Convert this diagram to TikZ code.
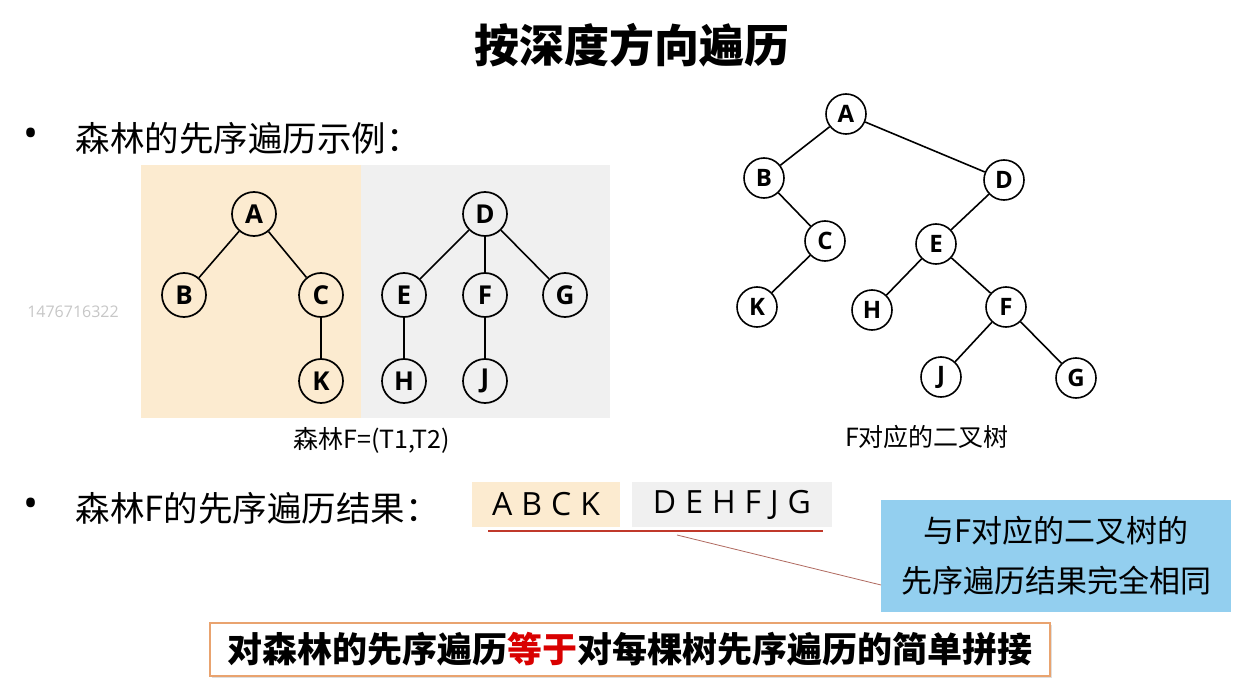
\documentclass[tikz,border=0pt]{standalone}
\usepackage{fontspec}
\setmainfont{Open Sans}
\newfontfamily\cjk{Noto Sans CJK SC}
\usetikzlibrary{shadows}
\definecolor{beige}{HTML}{FCEBD0}
\definecolor{lgray}{HTML}{F0F0F0}
\definecolor{notecol}{HTML}{93CFEF}
\definecolor{ured}{HTML}{C0392B}
\definecolor{obord}{HTML}{E9A36F}
\definecolor{callcol}{HTML}{B06A60}
\begin{document}
\begin{tikzpicture}[x=1pt,y=-1pt,
 fnode/.style={circle,draw,line width=1.7pt,minimum size=44pt,inner sep=0pt,font=\fontsize{26}{26}\selectfont\bfseries},
 bnode/.style={circle,draw,line width=1.6pt,minimum size=40pt,inner sep=0pt,fill=white,font=\fontsize{24}{24}\selectfont\bfseries},
 edge/.style={line width=1.6pt},
 bullet/.style={font=\fontsize{40}{40}\selectfont},
 btext/.style={anchor=west,font=\cjk\fontsize{34.5}{34.5}\selectfont},
 captext/.style={font=\cjk\fontsize{25}{25}\selectfont},
 seq/.style={inner sep=0pt,minimum height=45pt,font=\fontsize{32}{32}\selectfont},
]
\useasboundingbox (0,0) rectangle (1255,687);
\fill[white] (0,0) rectangle (1255,687);

% title
\node (title) at (632,45) {\cjk\bfseries\fontsize{45}{45}\selectfont 按深度方向遍历};

% watermark
\node[text=black!22,font=\fontsize{16}{16}\selectfont] (wm) at (73,312) {1476716322};

% bullet 1
\node[bullet] (b1) at (31,138) {•};
\node[btext] (t1) at (72,138) {森林的先序遍历示例：};

% panels
\fill[beige] (141,165) rectangle (361,418);
\fill[lgray] (361,165) rectangle (610,418);

% forest T1
\node[fnode,fill=beige] (fA) at (254,214) {A};
\node[fnode,fill=beige] (fB) at (184,295) {B};
\node[fnode,fill=beige] (fC) at (321,295) {C};
\node[fnode,fill=beige] (fK) at (321,381) {K};
% forest T2
\node[fnode,fill=lgray] (fD) at (485,214) {D};
\node[fnode,fill=lgray] (fE) at (404,295) {E};
\node[fnode,fill=lgray] (fF) at (485,295) {F};
\node[fnode,fill=lgray] (fG) at (565,295) {G};
\node[fnode,fill=lgray] (fH) at (404,381) {H};
\node[fnode,fill=lgray] (fJ) at (485,381) {J};
\draw[edge] (fA)--(fB) (fA)--(fC) (fC)--(fK)
 (fD)--(fE) (fD)--(fF) (fD)--(fG) (fE)--(fH) (fF)--(fJ);
\node[captext] (cap1) at (372,440) {森林F=(T1,T2)};

% binary tree
\node[bnode] (bA) at (846,114) {A};
\node[bnode] (bB) at (764,178) {B};
\node[bnode] (bD) at (1004,180) {D};
\node[bnode] (bC) at (825,241) {C};
\node[bnode] (bE) at (936,244) {E};
\node[bnode] (bK) at (757,307) {K};
\node[bnode] (bH) at (872,310) {H};
\node[bnode] (bF) at (1006,307) {F};
\node[bnode] (bJ) at (941,377) {J};
\node[bnode] (bG) at (1076,378) {G};
\draw[edge] (bA)--(bB) (bA)--(bD) (bB)--(bC) (bC)--(bK)
 (bD)--(bE) (bE)--(bH) (bE)--(bF) (bF)--(bJ) (bF)--(bG);
\node[captext] (cap2) at (927,437) {F对应的二叉树};

% bullet 2
\node[bullet] (b2) at (31,508) {•};
\node[btext] (t2) at (72,508) {森林F的先序遍历结果：};

% result sequence
\node[seq,fill=beige,minimum width=148pt] (r1) at (546,504.5) {\spaceskip=9pt A B C K};
\node[seq,fill=lgray,minimum width=200pt] (r2) at (732,504.5) {\spaceskip=9pt D E H F J G};
\coordinate (u1) at (488,531);
\coordinate (u2) at (823,531);
\draw[ured,line width=2.5pt] (u1)--(u2);

% note
\node[fill=notecol,minimum width=350pt,minimum height=112pt,align=center,
 font=\cjk\fontsize{31}{50}\selectfont] (note) at (1056,556) {与F对应的二叉树的\\先序遍历结果完全相同};
\coordinate (c0) at (677,535);
\coordinate (c1) at (881,585);
\draw[callcol,line width=0.8pt] (c0)--(c1);

% summary
\node[draw=obord,line width=1.5pt,fill=white,minimum width=840pt,minimum height=53pt,
 drop shadow={opacity=0.25,shadow xshift=2pt,shadow yshift=-2pt},
 font=\cjk\bfseries\fontsize{35}{35}\selectfont] (summary) at (630,649.5)
 {对森林的先序遍历\textcolor{red!85!black}{等于}对每棵树先序遍历的简单拼接};
\end{tikzpicture}
\end{document}
